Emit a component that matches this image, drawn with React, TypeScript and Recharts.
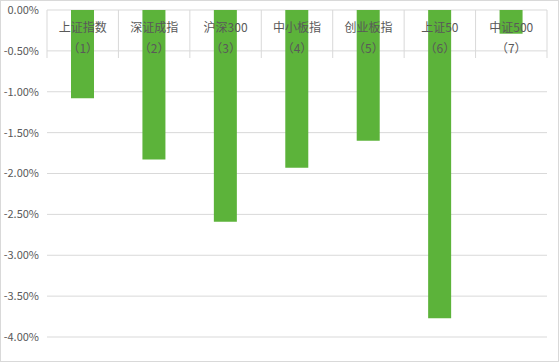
import { Bar, BarChart, CartesianGrid, XAxis, YAxis } from "recharts";

const indexNames = ["上证指数", "深证成指", "沪深300", "中小板指", "创业板指", "上证50", "中证500"];
const changes = [-1.08, -1.83, -2.59, -1.93, -1.6, -3.77, -0.29];
const yTicks = [0, -0.5, -1, -1.5, -2, -2.5, -3, -3.5, -4];

const data = indexNames.map((name, i) => ({ name, num: i + 1, value: changes[i] }));

const W = 557;
const H = 360;
const M = { top: 8, right: 11, bottom: 24, left: 0 };
const X_H = 1;
const PLOT_TOP = M.top + X_H;
const Y_W = 46;
const FONT = '"Noto Sans CJK SC", sans-serif';
const TEXT = "#595959";
const GRID = "#d9d9d9";

const CategoryTick = (props: any) => {
    const { x, payload, index } = props;
    const band = (W - M.left - M.right - Y_W) / indexNames.length;
    const top = PLOT_TOP;
    const row = data[index];
    return (
        <g>
            {index === 0 && (
                <line x1={x - band / 2} x2={x - band / 2} y1={top} y2={top + 48} stroke={GRID} />
            )}
            <line x1={x + band / 2} x2={x + band / 2} y1={top} y2={top + 48} stroke={GRID} />
            <text x={x} y={top + 22} textAnchor="middle" fill={TEXT} fontSize={12} fontFamily={FONT}>
                {payload.value}
            </text>
            <text x={x} y={top + 43} textAnchor="middle" fill={TEXT} fontSize={12} fontFamily={FONT}>
                {`（${row ? row.num : index + 1}）`}
            </text>
        </g>
    );
};

const App = () => {
    return (
        <div
            style={{
                position: "absolute",
                left: 0,
                top: 0,
                width: 559,
                height: 362,
                boxSizing: "border-box",
                border: `1px solid ${GRID}`,
                background: "#fff",
            }}
        >
            <BarChart width={W} height={H} data={data} margin={M}>
                <CartesianGrid vertical={false} stroke={GRID} />
                <YAxis
                    type="number"
                    domain={[-4, 0]}
                    ticks={yTicks}
                    width={Y_W}
                    axisLine={false}
                    tickLine={false}
                    interval={0}
                    tickFormatter={(v: number) => `${v.toFixed(2)}%`}
                    tick={{ fill: TEXT, fontSize: 11, fontFamily: FONT }}
                />
                <Bar dataKey="value" fill="#5cb33a" barSize={23} isAnimationActive={false} />
                <XAxis
                    dataKey="name"
                    orientation="top"
                    height={X_H}
                    axisLine={false}
                    tickLine={false}
                    interval={0}
                    tick={<CategoryTick />}
                />
            </BarChart>
        </div>
    );
};

export default App;
